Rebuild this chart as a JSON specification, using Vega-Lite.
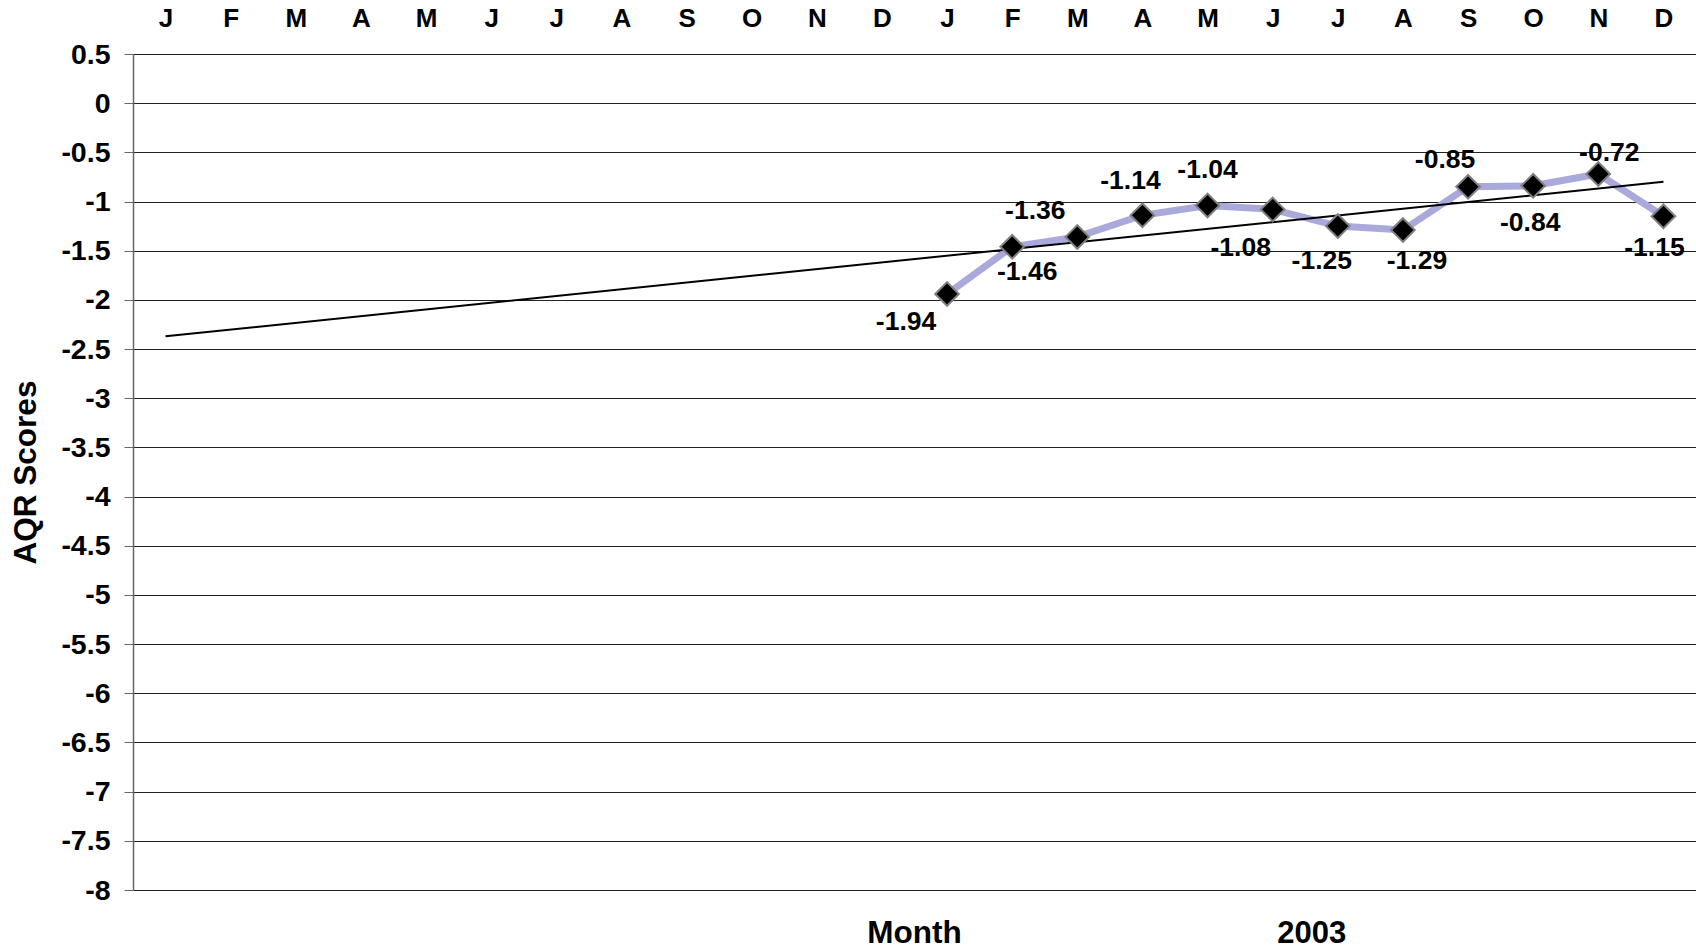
{
  "$schema": "https://vega.github.io/schema/vega-lite/v6.json",
  "width": 1563,
  "height": 836,
  "autosize": {"type": "none"},
  "padding": {"left": 133, "top": 54, "right": 0, "bottom": 61},
  "background": "white",
  "config": {
    "view": {"stroke": null},
    "font": "Liberation Sans",
    "axis": {"labelFont": "Liberation Sans", "titleFont": "Liberation Sans", "labelColor": "black", "titleColor": "black"},
    "text": {"font": "Liberation Sans", "fontWeight": "bold", "fontSize": 26.5, "color": "black", "align": "center", "baseline": "middle"}
  },
  "datasets": {
    "scores": [
      {"m": 13, "score": -1.94},
      {"m": 14, "score": -1.46},
      {"m": 15, "score": -1.36},
      {"m": 16, "score": -1.14},
      {"m": 17, "score": -1.04},
      {"m": 18, "score": -1.08},
      {"m": 19, "score": -1.25},
      {"m": 20, "score": -1.29},
      {"m": 21, "score": -0.85},
      {"m": 22, "score": -0.84},
      {"m": 23, "score": -0.72},
      {"m": 24, "score": -1.15}
    ],
    "trend": [
      {"m": 1, "score": -2.37},
      {"m": 24, "score": -0.8}
    ]
  },
  "data": {"name": "scores"},
  "resolve": {"axis": {"x": "independent"}},
  "layer": [
    {
      "mark": {"type": "line", "color": "#a9a9dc", "strokeWidth": 7},
      "encoding": {
        "x": {
          "field": "m", "type": "quantitative",
          "scale": {"domain": [0.5, 24.5], "nice": false, "zero": false},
          "axis": {
            "orient": "top",
            "values": [1, 2, 3, 4, 5, 6, 7, 8, 9, 10, 11, 12, 13, 14, 15, 16, 17, 18, 19, 20, 21, 22, 23, 24],
            "labelExpr": "['J','F','M','A','M','J','J','A','S','O','N','D'][(datum.value - 1) % 12]",
            "ticks": false, "tickSize": 0, "domain": false, "grid": false,
            "labelFontSize": 26, "labelFontWeight": "bold", "labelPadding": 23,
            "labelFlush": false, "labelOverlap": false,
            "title": null
          }
        },
        "y": {
          "field": "score", "type": "quantitative", "title": "AQR Scores",
          "scale": {"domain": [-8, 0.5], "nice": false, "zero": false},
          "axis": {
            "values": [0.5, 0, -0.5, -1, -1.5, -2, -2.5, -3, -3.5, -4, -4.5, -5, -5.5, -6, -6.5, -7, -7.5, -8],
            "labelExpr": "'' + datum.value",
            "grid": true, "gridColor": "#222", "gridWidth": 1,
            "domainColor": "#666", "domainWidth": 1.5,
            "tickColor": "#666", "tickSize": 9, "tickWidth": 1,
            "labelFontSize": 28.5, "labelFontWeight": "bold", "labelPadding": 14,
            "labelOverlap": false, "labelFlush": false,
            "titleFontSize": 31.5, "titleFontWeight": "bold",
            "titleAngle": -90, "titleX": -107, "titleY": 418,
            "titleAlign": "center", "titleBaseline": "middle"
          }
        }
      }
    },
    {
      "data": {"name": "trend"},
      "mark": {"type": "line", "color": "black", "strokeWidth": 2},
      "encoding": {
        "x": {
          "field": "m", "type": "quantitative",
          "scale": {"domain": [0.5, 24.5], "nice": false, "zero": false},
          "axis": {
            "orient": "bottom",
            "values": [18.5],
            "labelExpr": "'2003'",
            "ticks": false, "tickSize": 0, "domain": false, "grid": false,
            "labelFontSize": 31, "labelFontWeight": "bold",
            "labelBaseline": "middle", "labelPadding": 43, "labelOffset": 6,
            "title": "Month", "titleFontSize": 31.5, "titleFontWeight": "bold",
            "titleX": 781, "titleY": 43, "titleAlign": "center", "titleBaseline": "middle"
          }
        },
        "y": {"field": "score", "type": "quantitative", "title": "AQR Scores"}
      }
    },
    {
      "mark": {"type": "point", "shape": "diamond", "size": 560, "filled": true, "fill": "black", "stroke": "#808080", "strokeWidth": 2, "opacity": 1},
      "encoding": {
        "x": {"field": "m", "type": "quantitative", "axis": null},
        "y": {"field": "score", "type": "quantitative", "title": "AQR Scores"}
      }
    },
    {
      "transform": [{"filter": "datum.m == 13"}],
      "mark": {"type": "text", "dx": -41, "dy": 28},
      "encoding": {"x": {"field": "m", "type": "quantitative", "axis": null}, "y": {"field": "score", "type": "quantitative", "title": "AQR Scores"}, "text": {"field": "score", "type": "nominal"}}
    },
    {
      "transform": [{"filter": "datum.m == 14"}],
      "mark": {"type": "text", "dx": 15, "dy": 25},
      "encoding": {"x": {"field": "m", "type": "quantitative", "axis": null}, "y": {"field": "score", "type": "quantitative", "title": "AQR Scores"}, "text": {"field": "score", "type": "nominal"}}
    },
    {
      "transform": [{"filter": "datum.m == 15"}],
      "mark": {"type": "text", "dx": -42, "dy": -26},
      "encoding": {"x": {"field": "m", "type": "quantitative", "axis": null}, "y": {"field": "score", "type": "quantitative", "title": "AQR Scores"}, "text": {"field": "score", "type": "nominal"}}
    },
    {
      "transform": [{"filter": "datum.m == 16"}],
      "mark": {"type": "text", "dx": -12, "dy": -34},
      "encoding": {"x": {"field": "m", "type": "quantitative", "axis": null}, "y": {"field": "score", "type": "quantitative", "title": "AQR Scores"}, "text": {"field": "score", "type": "nominal"}}
    },
    {
      "transform": [{"filter": "datum.m == 17"}],
      "mark": {"type": "text", "dx": 0, "dy": -35},
      "encoding": {"x": {"field": "m", "type": "quantitative", "axis": null}, "y": {"field": "score", "type": "quantitative", "title": "AQR Scores"}, "text": {"field": "score", "type": "nominal"}}
    },
    {
      "transform": [{"filter": "datum.m == 18"}],
      "mark": {"type": "text", "dx": -32, "dy": 39},
      "encoding": {"x": {"field": "m", "type": "quantitative", "axis": null}, "y": {"field": "score", "type": "quantitative", "title": "AQR Scores"}, "text": {"field": "score", "type": "nominal"}}
    },
    {
      "transform": [{"filter": "datum.m == 19"}],
      "mark": {"type": "text", "dx": -16, "dy": 35},
      "encoding": {"x": {"field": "m", "type": "quantitative", "axis": null}, "y": {"field": "score", "type": "quantitative", "title": "AQR Scores"}, "text": {"field": "score", "type": "nominal"}}
    },
    {
      "transform": [{"filter": "datum.m == 20"}],
      "mark": {"type": "text", "dx": 14, "dy": 31},
      "encoding": {"x": {"field": "m", "type": "quantitative", "axis": null}, "y": {"field": "score", "type": "quantitative", "title": "AQR Scores"}, "text": {"field": "score", "type": "nominal"}}
    },
    {
      "transform": [{"filter": "datum.m == 21"}],
      "mark": {"type": "text", "dx": -23, "dy": -27},
      "encoding": {"x": {"field": "m", "type": "quantitative", "axis": null}, "y": {"field": "score", "type": "quantitative", "title": "AQR Scores"}, "text": {"field": "score", "type": "nominal"}}
    },
    {
      "transform": [{"filter": "datum.m == 22"}],
      "mark": {"type": "text", "dx": -3, "dy": 37},
      "encoding": {"x": {"field": "m", "type": "quantitative", "axis": null}, "y": {"field": "score", "type": "quantitative", "title": "AQR Scores"}, "text": {"field": "score", "type": "nominal"}}
    },
    {
      "transform": [{"filter": "datum.m == 23"}],
      "mark": {"type": "text", "dx": 11, "dy": -21},
      "encoding": {"x": {"field": "m", "type": "quantitative", "axis": null}, "y": {"field": "score", "type": "quantitative", "title": "AQR Scores"}, "text": {"field": "score", "type": "nominal"}}
    },
    {
      "transform": [{"filter": "datum.m == 24"}],
      "mark": {"type": "text", "dx": -9, "dy": 32},
      "encoding": {"x": {"field": "m", "type": "quantitative", "axis": null}, "y": {"field": "score", "type": "quantitative", "title": "AQR Scores"}, "text": {"field": "score", "type": "nominal"}}
    }
  ]
}
